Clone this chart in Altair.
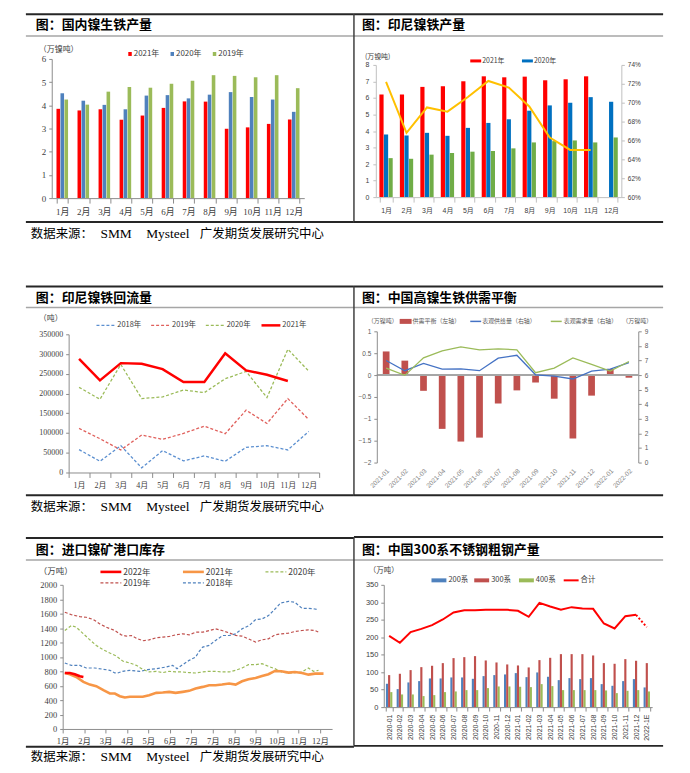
import altair as alt
import pandas as pd

# ---------------- data ----------------
MONTHS = ["1月", "2月", "3月", "4月", "5月", "6月", "7月", "8月", "9月", "10月", "11月", "12月"]

# 国内镍生铁产量 (万镍吨)
P1_YEARS = ["2021年", "2020年", "2019年"]
P1_2021 = [3.85, 3.78, 3.83, 3.38, 3.56, 3.89, 4.17, 4.16, 2.99, 3.05, 3.20, 3.39]
P1_2020 = [4.52, 4.20, 4.02, 3.83, 4.42, 4.44, 4.30, 4.46, 4.57, 4.36, 4.25, 3.72]
P1_2019 = [4.25, 4.03, 4.59, 4.79, 4.76, 4.93, 5.06, 5.30, 5.27, 5.21, 5.30, 4.74]

# 印尼镍铁产量 (万镍吨) + ratio line (right axis)
P2_YEARS = ["2021年", "2020年", "2019年"]
P2_2021 = [6.21, 6.21, 6.67, 6.71, 7.01, 7.31, 7.25, 7.29, 7.07, 7.13, 7.31, None]
P2_2020 = [3.79, 3.73, 3.89, 3.71, 4.19, 4.49, 4.71, 5.23, 5.55, 5.71, 6.05, 5.77]
P2_2019 = [2.36, 2.32, 2.57, 2.67, 2.75, 2.79, 2.95, 3.31, 3.39, 3.43, 3.31, 3.61]
P2_RATE = [0.722, 0.668, 0.695, 0.6905, 0.706, 0.723, 0.716, 0.696, 0.663, 0.650, 0.650]

# 印尼镍铁回流量 (吨)
P3_YEARS = ["2018年", "2019年", "2020年", "2021年"]
P3_2018 = [57900, 28500, 68000, 11700, 55400, 29400, 42000, 28500, 63800, 68000, 57100, 104000]
P3_2019 = [111600, 85600, 57100, 94800, 83900, 99000, 117500, 98200, 157800, 124200, 187200, 134300]
P3_2020 = [215700, 185500, 273600, 187200, 191400, 209000, 202300, 237500, 256000, 189700, 312200, 256800]
P3_2021 = [287900, 233300, 277000, 275300, 261900, 229100, 229100, 302100, 258500, 247600, 231600]

# 中国高镍生铁供需平衡 (万镍吨)
P4_MONTHS = ["2021-01", "2021-02", "2021-03", "2021-04", "2021-05", "2021-06", "2021-07",
             "2021-08", "2021-09", "2021-10", "2021-11", "2021-12", "2022-01", "2022-02"]
P4_BALANCE = [0.54, 0.33, -0.36, -1.23, -1.52, -1.43, -0.65, -0.35, -0.17, -0.54, -1.45, -0.47, 0.14, -0.06]
P4_SUPPLY = [7.00, 6.30, 6.80, 6.41, 6.43, 6.30, 7.16, 7.36, 6.02, 5.93, 5.73, 6.27, 6.41, 6.86]
P4_DEMAND = [6.48, 5.98, 7.18, 7.66, 7.93, 7.73, 7.80, 7.73, 6.16, 6.48, 7.18, 6.73, 6.27, 6.93]
P4_SERIES = ["表观供给量（右轴）", "表观需求量（右轴）"]

# 进口镍矿港口库存 (万吨), x = day of year
P5_XLABELS = ["1月", "2月", "3月", "4月", "5月", "6月", "7月", "7月", "8月", "9月", "10月", "11月", "12月"]
P5_2022_DAY = [3, 10, 17, 24, 29]
P5_2022 = [777, 777, 759, 731, 722]
P5_2021_DAY = [3, 10, 19, 29, 38, 47, 57, 66, 73, 80, 87, 94, 103, 112, 121, 131, 140, 149, 158, 168, 177,
               186, 196, 205, 214, 223, 233, 242, 251, 260, 270, 279, 288, 297, 306, 316, 325, 335, 344, 353, 365]
P5_2021 = [777, 759, 722, 653, 616, 593, 538, 492, 492, 455, 437, 446, 446, 446, 469, 501, 506, 515, 501, 515, 529,
           561, 584, 607, 607, 616, 630, 616, 662, 690, 708, 736, 759, 805, 800, 782, 791, 777, 754, 768, 768]
P5_2020_DAY = [3, 12, 19, 29, 38, 47, 57, 66, 75, 84, 94, 103, 112, 121, 131, 140, 149, 158, 168, 177,
               186, 196, 205, 214, 223, 233, 242, 251, 260, 270, 279, 288, 297, 306, 316, 325, 335, 344, 351, 358]
P5_2020 = [1366, 1435, 1412, 1320, 1237, 1159, 1099, 1053, 1012, 943, 915, 883, 828, 791, 800, 782, 800, 791, 791, 782,
           777, 791, 800, 800, 791, 791, 814, 846, 892, 892, 906, 869, 837, 791, 777, 782, 791, 846, 800, 814]
P5_2019_DAY = [3, 12, 24, 33, 43, 52, 61, 73, 82, 89, 96, 103, 112, 121, 131, 140, 149, 158, 168, 177,
               186, 196, 205, 214, 223, 233, 242, 251, 260, 270, 279, 288, 297, 306, 316, 325, 335, 344, 353, 358]
P5_2019 = [1619, 1587, 1559, 1550, 1518, 1458, 1412, 1366, 1306, 1288, 1297, 1260, 1224, 1237, 1265, 1274, 1283, 1306,
           1320, 1306, 1343, 1343, 1366, 1389, 1366, 1334, 1297, 1288, 1251, 1205, 1237, 1251, 1306, 1320, 1329, 1352,
           1366, 1375, 1366, 1343]
P5_2018_DAY = [3, 12, 24, 33, 45, 57, 66, 73, 77, 84, 94, 108, 119, 131, 145, 154, 160, 168, 177, 186,
               191, 196, 205, 214, 224, 233, 242, 251, 261, 270, 279, 288, 295, 305, 316, 325, 335, 344, 353, 358]
P5_2018 = [915, 882, 882, 846, 846, 828, 814, 777, 777, 800, 814, 800, 823, 837, 860, 883, 837, 892, 952, 998,
           1076, 1136, 1159, 1228, 1297, 1297, 1320, 1389, 1435, 1518, 1527, 1573, 1642, 1748, 1771, 1757, 1674,
           1674, 1665, 1651]

# 中国300系不锈钢粗钢产量 (万吨)
P6_CATS = ["2020-01", "2020-02", "2020-03", "2020-04", "2020-05", "2020-06", "2020-07", "2020-08", "2020-09",
           "2020-10", "2020-11", "2020-12", "2021-01", "2021-02", "2021-03", "2021-04", "2021-05", "2021-06",
           "2021-07", "2021-08", "2021-09", "2021-10", "2021-11", "2021-12", "2022-1E"]
P6_SERIES = ["200系", "300系", "400系"]
P6_200 = [66.8, 51.5, 70.6, 74.4, 82.0, 82.0, 84.9, 84.9, 81.0, 88.7, 91.6, 93.5, 97.3, 85.8, 99.2, 86.8, 77.2,
          83.0, 80.1, 83.0, 65.8, 61.0, 74.4, 80.1, 56.3]
P6_300 = [91.6, 95.4, 105.9, 114.4, 118.3, 125.9, 140.2, 143.0, 145.9, 133.5, 127.8, 122.1, 119.2, 113.5, 134.5,
          141.1, 151.6, 151.6, 151.6, 147.8, 125.9, 124.0, 137.3, 132.6, 125.9]
P6_400 = [42.9, 36.2, 36.2, 31.5, 34.3, 42.9, 44.8, 48.6, 48.6, 54.4, 59.1, 59.1, 58.2, 57.2, 65.8, 60.1, 48.6,
          48.6, 48.6, 48.6, 47.7, 40.0, 46.7, 48.6, 44.8]
P6_TOTAL = [204.0, 184.0, 214.6, 224.0, 234.6, 250.8, 270.8, 277.5, 277.5, 278.5, 278.5, 278.5, 275.6, 258.4,
            298.5, 288.0, 278.5, 286.1, 282.3, 281.3, 239.4, 225.0, 260.3, 264.2, 228.9]

SOURCE_PARTS = ["数据来源：", "SMM", "Mysteel", "广发期货发展研究中心"]

# ---------------- layout helpers (page coordinates, page margin 8px) ----------------
W, H = 674, 757
SERIF = "Liberation Serif, Noto Sans CJK SC"
SANS = "Liberation Sans, Noto Sans CJK SC"
CJK = "Noto Sans CJK SC"
DARK = "#262626"
GRAY_LINE = "#A6A6A6"
ONE = pd.DataFrame({"k": [0]})
layers = []


def PX(x):
    return x - 8


def PY(y):
    return y - 8


def rule(x1, y1, x2, y2, color, width, dash=None):
    kw = dict(color=color, strokeWidth=width)
    if dash is not None:
        kw["strokeDash"] = dash
    layers.append(alt.Chart(ONE).mark_rule(**kw).encode(
        x=alt.value(PX(x1)), x2=alt.value(PX(x2)), y=alt.value(PY(y1)), y2=alt.value(PY(y2))))


def rect(x1, y1, x2, y2, color):
    layers.append(alt.Chart(ONE).mark_rect(color=color).encode(
        x=alt.value(PX(x1)), x2=alt.value(PX(x2)), y=alt.value(PY(y1)), y2=alt.value(PY(y2))))


def text(x, y, s, size, font=CJK, weight="normal", color="#404040", align="left"):
    layers.append(alt.Chart(ONE).mark_text(
        font=font, fontSize=size, fontWeight=weight, color=color, align=align, baseline="middle").encode(
        x=alt.value(PX(x)), y=alt.value(PY(y)), text=alt.value(s)))


def header_left(y_top, y_gray, y_title, title):
    rule(22, y_top, 352, y_top, DARK, 2)
    rule(22, y_gray, 352, y_gray, GRAY_LINE, 1.5)
    text(32, y_title, title, 13, weight="bold", color="#000000")


def header_right(y_top, y_gray, y_title, y_bottom, title):
    rule(352, y_top, 663, y_top, DARK, 2)
    rule(352, y_gray, 663, y_gray, GRAY_LINE, 1.5)
    rule(352, y_top, 352, y_bottom, "#404040", 1.5)
    rule(352, y_bottom, 663, y_bottom, DARK, 2)
    text(360, y_title, title, 13, weight="bold", color="#000000")


def footer_left(y_line, y_text):
    rule(22, y_line, 352, y_line, DARK, 2)
    for x, s, f in zip([27, 97, 143, 197], SOURCE_PARTS, [CJK, SERIF, SERIF, CJK]):
        text(x, y_text, s, 13.5 if f == SERIF else 12.5, font=f, color="#000000")


def axis(**kw):
    base = dict(title=None, grid=False, domainColor="#8C8C8C", tickColor="#8C8C8C",
                labelColor="#404040", labelFont=SERIF, labelFontSize=9, tickSize=3,
                labelPadding=2, labelOverlap=False, zindex=1)
    base.update(kw)
    return alt.Axis(**base)


def ax_left(x, **kw):
    return axis(orient="left", offset=-PX(x), **kw)


def ax_right(x, **kw):
    return axis(orient="right", offset=PX(x) - W, **kw)


def ax_bottom(y, **kw):
    return axis(orient="bottom", offset=PY(y) - H, **kw)


def band(domain, x0, x1, pi, po):
    return alt.Scale(type="band", domain=domain, range=[PX(x0), PX(x1)], paddingInner=pi, paddingOuter=po)


def lin(domain, y_bottom, y_top):
    return alt.Scale(domain=domain, range=[PY(y_bottom), PY(y_top)], nice=False, zero=False)


# ---------------- panel 1 : 国内镍生铁产量 ----------------
df1 = pd.DataFrame({
    "month": MONTHS * 3,
    "year": [P1_YEARS[0]] * 12 + [P1_YEARS[1]] * 12 + [P1_YEARS[2]] * 12,
    "value": P1_2021 + P1_2020 + P1_2019,
})
layers.append(alt.Chart(df1).mark_bar().encode(
    x=alt.X("month:N", scale=band(MONTHS, 48, 302, 0.45, 0.225),
            axis=ax_bottom(197, labelAngle=0, tickBand="extent", tickSize=5, labelPadding=4)),
    xOffset=alt.XOffset("year:N", scale=alt.Scale(domain=P1_YEARS, paddingInner=0.1)),
    y=alt.Y("value:Q", scale=lin([0, 6], 197, 57), axis=ax_left(48, values=[0, 1, 2, 3, 4, 5, 6], labelPadding=3)),
    color=alt.Color("year:N", scale=alt.Scale(domain=P1_YEARS, range=["#FF0000", "#4F81BD", "#9BBB59"]),
                    legend=None),
))
header_left(12, 34, 23, "图：国内镍生铁产量")
text(35, 48, "（万镍吨）", 8)
for x, col, lab in [(125, "#FF0000", "2021年"), (167.5, "#4F81BD", "2020年"), (210, "#9BBB59", "2019年")]:
    rect(x, 50, x + 3.5, 54, col)
    text(x + 5.5, 52, lab, 8)
footer_left(221, 233)

# ---------------- panel 2 : 印尼镍铁产量 ----------------
rows2 = []
for yr, vals in zip(P2_YEARS, [P2_2021, P2_2020, P2_2019]):
    for m, v in zip(MONTHS, vals):
        if v is not None:
            rows2.append({"month": m, "year": yr, "value": v})
df2 = pd.DataFrame(rows2)
df2r = pd.DataFrame({"month": MONTHS[:len(P2_RATE)], "rate": P2_RATE})
AX2 = dict(labelFontSize=7, labelFont=SANS, domainColor="#BFBFBF", tickColor="#BFBFBF")
layers.append(alt.Chart(df2).mark_bar().encode(
    x=alt.X("month:N", scale=band(MONTHS, 374, 621, 0.35, 0.175),
            axis=ax_bottom(196, labelAngle=0, tickBand="extent", tickSize=5, labelPadding=4, **AX2)),
    xOffset=alt.XOffset("year:N", scale=alt.Scale(domain=P2_YEARS, paddingInner=0.08)),
    y=alt.Y("value:Q", scale=lin([0, 8], 196, 63), axis=ax_left(374, values=list(range(9)), labelPadding=4, **AX2)),
    color=alt.Color("year:N", scale=alt.Scale(domain=P2_YEARS, range=["#FF0000", "#0070C0", "#70AD47"]),
                    legend=None),
))
layers.append(alt.Chart(df2r).mark_line(color="#FFC000", strokeWidth=2).encode(
    x=alt.X("month:N", scale=band(MONTHS, 374, 621, 0.35, 0.175), axis=None),
    y=alt.Y("rate:Q", scale=lin([0.60, 0.74], 196, 63),
            axis=ax_right(621, values=[0.60, 0.62, 0.64, 0.66, 0.68, 0.70, 0.72, 0.74], format=".0%",
                          labelPadding=3, **dict(AX2, labelFontSize=6.5))),
))
header_right(12, 34, 23, 221, "图：印尼镍铁产量")
text(363, 55, "(万镍吨)", 7)
rect(469, 57.5, 480, 60.5, "#FF0000")
text(481, 59, "2021年", 7)
rect(521, 57.5, 532, 60.5, "#0070C0")
text(533, 59, "2020年", 7)

# ---------------- panel 3 : 印尼镍铁回流量 ----------------
rows3 = []
for yr, vals in zip(P3_YEARS, [P3_2018, P3_2019, P3_2020, P3_2021]):
    for m, v in zip(MONTHS, vals):
        rows3.append({"month": m, "year": yr, "value": v})
df3 = pd.DataFrame(rows3)
c3 = alt.Color("year:N", scale=alt.Scale(domain=P3_YEARS, range=["#5B8FD0", "#E0605C", "#9BBB59", "#FF0000"]),
               legend=None)
layers.append(alt.Chart(df3).transform_filter(alt.datum.year != "2021年").mark_line(
    strokeWidth=1.3, strokeDash=[3, 2]).encode(
    x=alt.X("month:N", scale=band(MONTHS, 65, 317, 0, 0),
            axis=ax_bottom(473, labelAngle=0, tickBand="extent", tickSize=5, labelPadding=4, labelFontSize=8)),
    y=alt.Y("value:Q", scale=lin([0, 350000], 473, 334),
            axis=ax_left(65, values=list(range(0, 350001, 50000)), format="d", labelFontSize=8, labelPadding=3)),
    color=c3))
layers.append(alt.Chart(df3).transform_filter(alt.datum.year == "2021年").mark_line(strokeWidth=2.5).encode(
    x=alt.X("month:N", scale=band(MONTHS, 65, 317, 0, 0), axis=None),
    y=alt.Y("value:Q", scale=lin([0, 350000], 473, 334), axis=None),
    color=c3))
header_left(286, 307, 297, "图：印尼镍铁回流量")
text(35, 319, "（吨）", 8)
for x, col, lab, dash, wd in [(93, "#5B8FD0", "2018年", [3, 2], 1.3), (148, "#E0605C", "2019年", [3, 2], 1.3),
                              (203, "#9BBB59", "2020年", [3, 2], 1.3), (259, "#FF0000", "2021年", None, 2.5)]:
    rule(x, 325, x + 19, 325, col, wd, dash)
    text(x + 21, 325, lab, 7.5)
footer_left(496, 508)

# ---------------- panel 4 : 中国高镍生铁供需平衡 ----------------
df4 = pd.DataFrame({"m": P4_MONTHS, "bal": P4_BALANCE})
df4l = pd.DataFrame({
    "m": P4_MONTHS * 2,
    "s": [P4_SERIES[0]] * len(P4_MONTHS) + [P4_SERIES[1]] * len(P4_MONTHS),
    "v": P4_SUPPLY + P4_DEMAND,
})
AX4 = dict(labelFontSize=6.5, labelFont=SANS, labelColor="#595959", labelPadding=3)
layers.append(alt.Chart(df4).mark_bar(color="#C0504D").encode(
    x=alt.X("m:N", scale=band(P4_MONTHS, 375, 638, 0.64, 0.32),
            axis=ax_bottom(463, labelAngle=-45, domain=False, ticks=False, labelFontSize=6.5, labelFont=SANS,
                           labelColor="#7F7F7F", labelPadding=5)),
    y=alt.Y("bal:Q", scale=lin([-2, 1], 463, 331),
            axis=ax_left(375, values=[-2, -1.5, -1, -0.5, 0, 0.5, 1], format="~g", **AX4)),
))
layers.append(alt.Chart(ONE).mark_rule(color="#A6A6A6", strokeWidth=2).encode(
    x=alt.value(PX(375)), x2=alt.value(PX(638)),
    y=alt.YDatum(0, scale=lin([-2, 1], 463, 331), axis=None)))
layers.append(alt.Chart(df4l).mark_line(strokeWidth=1.3).encode(
    x=alt.X("m:N", scale=band(P4_MONTHS, 375, 638, 0.64, 0.32), axis=None),
    y=alt.Y("v:Q", scale=lin([0, 9], 463, 331), axis=ax_right(638, values=list(range(10)), **AX4)),
    color=alt.Color("s:N", scale=alt.Scale(domain=P4_SERIES, range=["#4472C4", "#9BBB59"]), legend=None),
))
header_right(286, 307, 297, 496, "图：中国高镍生铁供需平衡")
text(366, 321, "（万镍吨）", 6, color="#595959")
rect(398, 318.5, 410, 323.5, "#C0504D")
text(411, 321, "供需平衡（左轴）", 6, color="#595959")
rule(469, 321, 480, 321, "#4472C4", 1.5)
text(481, 321, P4_SERIES[0], 6, color="#595959")
rule(550, 321, 561, 321, "#9BBB59", 1.5)
text(563, 321, P4_SERIES[1], 6, color="#595959")
text(622, 321, "（万镍吨）", 6, color="#595959")

# ---------------- panel 5 : 进口镍矿港口库存 ----------------
P5_YEARS = ["2018年", "2019年", "2020年", "2021年", "2022年"]
rows5 = []
for yr, days, vals in [("2018年", P5_2018_DAY, P5_2018), ("2019年", P5_2019_DAY, P5_2019),
                       ("2020年", P5_2020_DAY, P5_2020), ("2021年", P5_2021_DAY, P5_2021),
                       ("2022年", P5_2022_DAY, P5_2022)]:
    for d, v in zip(days, vals):
        rows5.append({"day": d, "year": yr, "value": v})
df5 = pd.DataFrame(rows5)
c5 = alt.Color("year:N", scale=alt.Scale(domain=P5_YEARS,
                                         range=["#4F81BD", "#C0504D", "#9BBB59", "#F79646", "#FF0000"]),
               legend=None)
x5s = alt.Scale(domain=[0, 377], range=[PX(59), PX(330)], nice=False, zero=False)
y5s = lin([0, 2000], 731, 586)
label_expr5 = "[" + ",".join("'" + s + "'" for s in P5_XLABELS) + "][round(datum.value / 30)]"
layers.append(alt.Chart(df5).transform_filter(
    alt.FieldOneOfPredicate(field="year", oneOf=["2018年", "2019年", "2020年"])).mark_line(
    strokeWidth=1.2, strokeDash=[3, 2]).encode(
    x=alt.X("day:Q", scale=x5s,
            axis=ax_bottom(731, values=[30 * i for i in range(len(P5_XLABELS))], labelExpr=label_expr5,
                           tickSize=4, labelFlush=False, labelFontSize=8.5, labelPadding=4)),
    y=alt.Y("value:Q", scale=y5s,
            axis=ax_left(59, values=list(range(0, 2001, 200)), format="d", labelFontSize=8.5, labelPadding=3,
                         labelFlush=False)),
    color=c5))
layers.append(alt.Chart(df5).transform_filter(
    alt.FieldOneOfPredicate(field="year", oneOf=["2021年", "2022年"])).mark_line(strokeWidth=2.6).encode(
    x=alt.X("day:Q", scale=x5s, axis=None),
    y=alt.Y("value:Q", scale=y5s, axis=None),
    color=c5))
header_left(539, 561, 551, "图：进口镍矿港口库存")
text(35, 572, "（万吨）", 8.5)
for x, y, col, lab, dash, wd in [(97, 573, "#FF0000", "2022年", None, 2.6), (180, 573, "#F79646", "2021年", None, 2.6),
                                 (263, 573, "#9BBB59", "2020年", [3, 2], 1.3),
                                 (97, 584, "#C0504D", "2019年", [3, 2], 1.3),
                                 (180, 584, "#4F81BD", "2018年", [3, 2], 1.3)]:
    rule(x, y, x + 21, y, col, wd, dash)
    text(x + 23, y, lab, 8.5)
footer_left(749, 759)

# ---------------- panel 6 : 中国300系不锈钢粗钢产量 ----------------
df6 = pd.DataFrame({
    "cat": P6_CATS * 3,
    "s": [P6_SERIES[0]] * len(P6_CATS) + [P6_SERIES[1]] * len(P6_CATS) + [P6_SERIES[2]] * len(P6_CATS),
    "v": P6_200 + P6_300 + P6_400,
})
df6t = pd.DataFrame({"cat": P6_CATS, "total": P6_TOTAL, "i": list(range(len(P6_CATS)))})
y6s = lin([0, 350], 709, 586)
layers.append(alt.Chart(df6).mark_bar().encode(
    x=alt.X("cat:N", scale=band(P6_CATS, 382, 652, 0.4, 0.2),
            axis=ax_bottom(709, labelAngle=-90, tickBand="extent", tickSize=4, labelFontSize=7, labelFont=SANS,
                           labelPadding=3)),
    xOffset=alt.XOffset("s:N", scale=alt.Scale(domain=P6_SERIES, paddingInner=0.0)),
    y=alt.Y("v:Q", scale=y6s,
            axis=ax_left(382, values=list(range(0, 351, 50)), labelFontSize=7.5, labelFont=SANS, labelPadding=3)),
    color=alt.Color("s:N", scale=alt.Scale(domain=P6_SERIES, range=["#4F81BD", "#C0504D", "#9BBB59"]),
                    legend=None),
))
n_solid = len(P6_CATS) - 1
layers.append(alt.Chart(df6t).transform_filter(alt.datum.i < n_solid).mark_line(
    color="#FF0000", strokeWidth=2).encode(
    x=alt.X("cat:N", scale=band(P6_CATS, 382, 652, 0.4, 0.2), axis=None),
    y=alt.Y("total:Q", scale=y6s, axis=None)))
layers.append(alt.Chart(df6t).transform_filter(alt.datum.i >= n_solid - 1).mark_line(
    color="#FF0000", strokeWidth=2, strokeDash=[2, 2]).encode(
    x=alt.X("cat:N", scale=band(P6_CATS, 382, 652, 0.4, 0.2), axis=None),
    y=alt.Y("total:Q", scale=y6s, axis=None)))
header_right(538, 561, 551, 748, "图：中国300系不锈钢粗钢产量")
text(367, 572, "（万吨）", 7.5)
for x, col, lab in [(430, "#4F81BD", "200系"), (473, "#C0504D", "300系"), (518, "#9BBB59", "400系")]:
    rect(x, 579.5, x + 15, 583.5, col)
    text(x + 17, 581.5, lab, 7.5)
rule(563, 581.5, 578, 581.5, "#FF0000", 2)
text(580, 581.5, "合计", 7.5)

# ---------------- assemble ----------------
chart = alt.layer(*layers).resolve_scale(
    x="independent", y="independent", color="independent", xOffset="independent"
).properties(width=W, height=H, padding=0).configure_view(strokeWidth=0)

chart.save("out.html", embed_options={"renderer": "svg", "actions": False})
